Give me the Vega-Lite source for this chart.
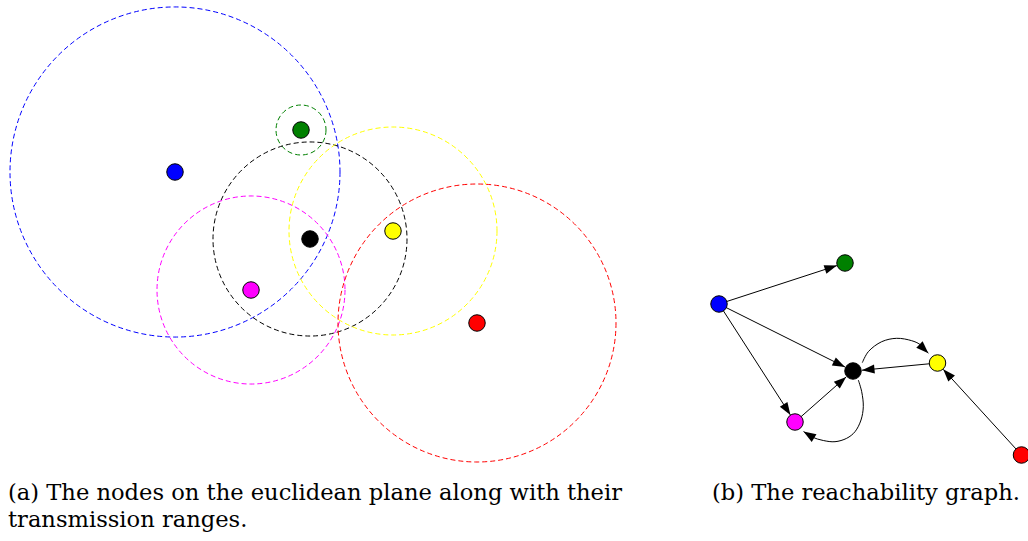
{
  "$schema": "https://vega.github.io/schema/vega-lite/v6.json",
  "width": 1028,
  "height": 541,
  "autosize": {"type": "none"},
  "padding": 0,
  "background": "white",
  "config": {"view": {"stroke": null}},
  "datasets": {
    "ranges": [
      {"node": "blue", "x": 175, "y": 172, "r": 165},
      {"node": "green", "x": 301, "y": 130, "r": 25},
      {"node": "black", "x": 310, "y": 239, "r": 97},
      {"node": "yellow", "x": 393, "y": 231, "r": 104},
      {"node": "magenta", "x": 251, "y": 290, "r": 94},
      {"node": "red", "x": 477, "y": 323, "r": 139}
    ],
    "nodes": [
      {"panel": "a", "node": "blue", "x": 175, "y": 172},
      {"panel": "a", "node": "green", "x": 301, "y": 130},
      {"panel": "a", "node": "black", "x": 310, "y": 239},
      {"panel": "a", "node": "yellow", "x": 393, "y": 231},
      {"panel": "a", "node": "magenta", "x": 251, "y": 290},
      {"panel": "a", "node": "red", "x": 477, "y": 323},
      {"panel": "b", "node": "blue", "x": 719, "y": 304},
      {"panel": "b", "node": "green", "x": 845, "y": 263},
      {"panel": "b", "node": "black", "x": 853, "y": 371},
      {"panel": "b", "node": "yellow", "x": 937.5, "y": 363},
      {"panel": "b", "node": "magenta", "x": 795, "y": 422},
      {"panel": "b", "node": "red", "x": 1021.5, "y": 455}
    ],
    "edges": [
      {"from": "blue", "to": "green", "x": 719, "y": 304, "x2": 836.9, "y2": 265.6},
      {"from": "blue", "to": "black", "x": 719, "y": 304, "x2": 845, "y2": 367},
      {"from": "blue", "to": "magenta", "x": 719, "y": 304, "x2": 790.4, "y2": 414.9},
      {"from": "magenta", "to": "black", "x": 795, "y": 422, "x2": 846.2, "y2": 376.9},
      {"from": "yellow", "to": "black", "x": 937.5, "y": 363, "x2": 862, "y2": 370.2},
      {"from": "red", "to": "yellow", "x": 1021.5, "y": 455, "x2": 943.2, "y2": 369.3}
    ],
    "curves": [
      {"edge": "black-yellow", "i": 0, "x": 862.3, "y": 362.7},
      {"edge": "black-yellow", "i": 1, "x": 868.3, "y": 351.7},
      {"edge": "black-yellow", "i": 2, "x": 881.7, "y": 341.7},
      {"edge": "black-yellow", "i": 3, "x": 896.7, "y": 338.3},
      {"edge": "black-yellow", "i": 4, "x": 911.7, "y": 340.7},
      {"edge": "black-yellow", "i": 5, "x": 920, "y": 344.5},
      {"edge": "black-yellow", "i": 6, "x": 928.3, "y": 353.3},
      {"edge": "black-magenta", "i": 0, "x": 858.3, "y": 380},
      {"edge": "black-magenta", "i": 1, "x": 861.7, "y": 391.7},
      {"edge": "black-magenta", "i": 2, "x": 863.3, "y": 406.7},
      {"edge": "black-magenta", "i": 3, "x": 861, "y": 420},
      {"edge": "black-magenta", "i": 4, "x": 855, "y": 431.7},
      {"edge": "black-magenta", "i": 5, "x": 846.7, "y": 438.3},
      {"edge": "black-magenta", "i": 6, "x": 835, "y": 441.7},
      {"edge": "black-magenta", "i": 7, "x": 823.3, "y": 440.5},
      {"edge": "black-magenta", "i": 8, "x": 812, "y": 437},
      {"edge": "black-magenta", "i": 9, "x": 803.5, "y": 431.5}
    ],
    "heads": [
      {"edge": "blue-green", "x": 836.9, "y": 265.6, "angle": 72},
      {"edge": "blue-black", "x": 845, "y": 367, "angle": 116.6},
      {"edge": "blue-magenta", "x": 790.4, "y": 414.9, "angle": 147.2},
      {"edge": "magenta-black", "x": 846.2, "y": 376.9, "angle": 48.7},
      {"edge": "yellow-black", "x": 862, "y": 370.2, "angle": 264.6},
      {"edge": "red-yellow", "x": 943.2, "y": 369.3, "angle": 317.6},
      {"edge": "black-yellow", "x": 928.3, "y": 353.3, "angle": 135},
      {"edge": "black-magenta", "x": 803.5, "y": 431.5, "angle": 302}
    ],
    "captions": [
      {"text": "(a) The nodes on the euclidean plane along with their", "x": 8, "y": 500},
      {"text": "transmission ranges.", "x": 8, "y": 527},
      {"text": "(b) The reachability graph.", "x": 712, "y": 500}
    ]
  },
  "layer": [
    {
      "data": {"name": "ranges"},
      "mark": {"type": "point", "shape": "circle", "filled": false, "strokeDash": [5, 3], "strokeWidth": 1, "opacity": 1},
      "encoding": {
        "x": {"field": "x", "type": "quantitative", "scale": {"domain": [0, 1028], "nice": false, "zero": false}, "axis": null},
        "y": {"field": "y", "type": "quantitative", "scale": {"domain": [0, 541], "nice": false, "zero": false, "reverse": true}, "axis": null},
        "size": {"field": "r", "type": "quantitative", "scale": {"type": "pow", "exponent": 2, "domain": [0, 200], "range": [0, 160000]}, "legend": null},
        "stroke": {"field": "node", "type": "nominal", "scale": {"domain": ["blue", "green", "black", "yellow", "magenta", "red"], "range": ["#0000ff", "#008000", "#000000", "#ffff00", "#ff00ff", "#ff0000"]}, "legend": null}
      }
    },
    {
      "data": {"name": "edges"},
      "mark": {"type": "rule", "color": "black", "strokeWidth": 1},
      "encoding": {
        "x": {"field": "x", "type": "quantitative", "axis": null},
        "y": {"field": "y", "type": "quantitative", "axis": null},
        "x2": {"field": "x2"},
        "y2": {"field": "y2"}
      }
    },
    {
      "data": {"name": "curves"},
      "mark": {"type": "line", "color": "black", "strokeWidth": 1, "interpolate": "catmull-rom"},
      "encoding": {
        "x": {"field": "x", "type": "quantitative", "axis": null},
        "y": {"field": "y", "type": "quantitative", "axis": null},
        "detail": {"field": "edge"},
        "order": {"field": "i", "type": "quantitative"}
      }
    },
    {
      "data": {"name": "heads"},
      "mark": {"type": "point", "shape": "M0,0L-0.36,1L0.36,1Z", "filled": true, "color": "black", "size": 625, "opacity": 1, "strokeWidth": 0},
      "encoding": {
        "x": {"field": "x", "type": "quantitative", "axis": null},
        "y": {"field": "y", "type": "quantitative", "axis": null},
        "angle": {"field": "angle", "type": "quantitative", "scale": null}
      }
    },
    {
      "data": {"name": "nodes"},
      "mark": {"type": "point", "shape": "circle", "filled": true, "size": 272, "stroke": "black", "strokeWidth": 1, "opacity": 1},
      "encoding": {
        "x": {"field": "x", "type": "quantitative", "axis": null},
        "y": {"field": "y", "type": "quantitative", "axis": null},
        "fill": {"field": "node", "type": "nominal", "scale": {"domain": ["blue", "green", "black", "yellow", "magenta", "red"], "range": ["#0000ff", "#008000", "#000000", "#ffff00", "#ff00ff", "#ff0000"]}, "legend": null}
      }
    },
    {
      "data": {"name": "captions"},
      "mark": {"type": "text", "align": "left", "baseline": "alphabetic", "font": "DejaVu Serif", "fontSize": 22.6, "color": "black"},
      "encoding": {
        "x": {"field": "x", "type": "quantitative", "axis": null},
        "y": {"field": "y", "type": "quantitative", "axis": null},
        "text": {"field": "text"}
      }
    }
  ]
}
